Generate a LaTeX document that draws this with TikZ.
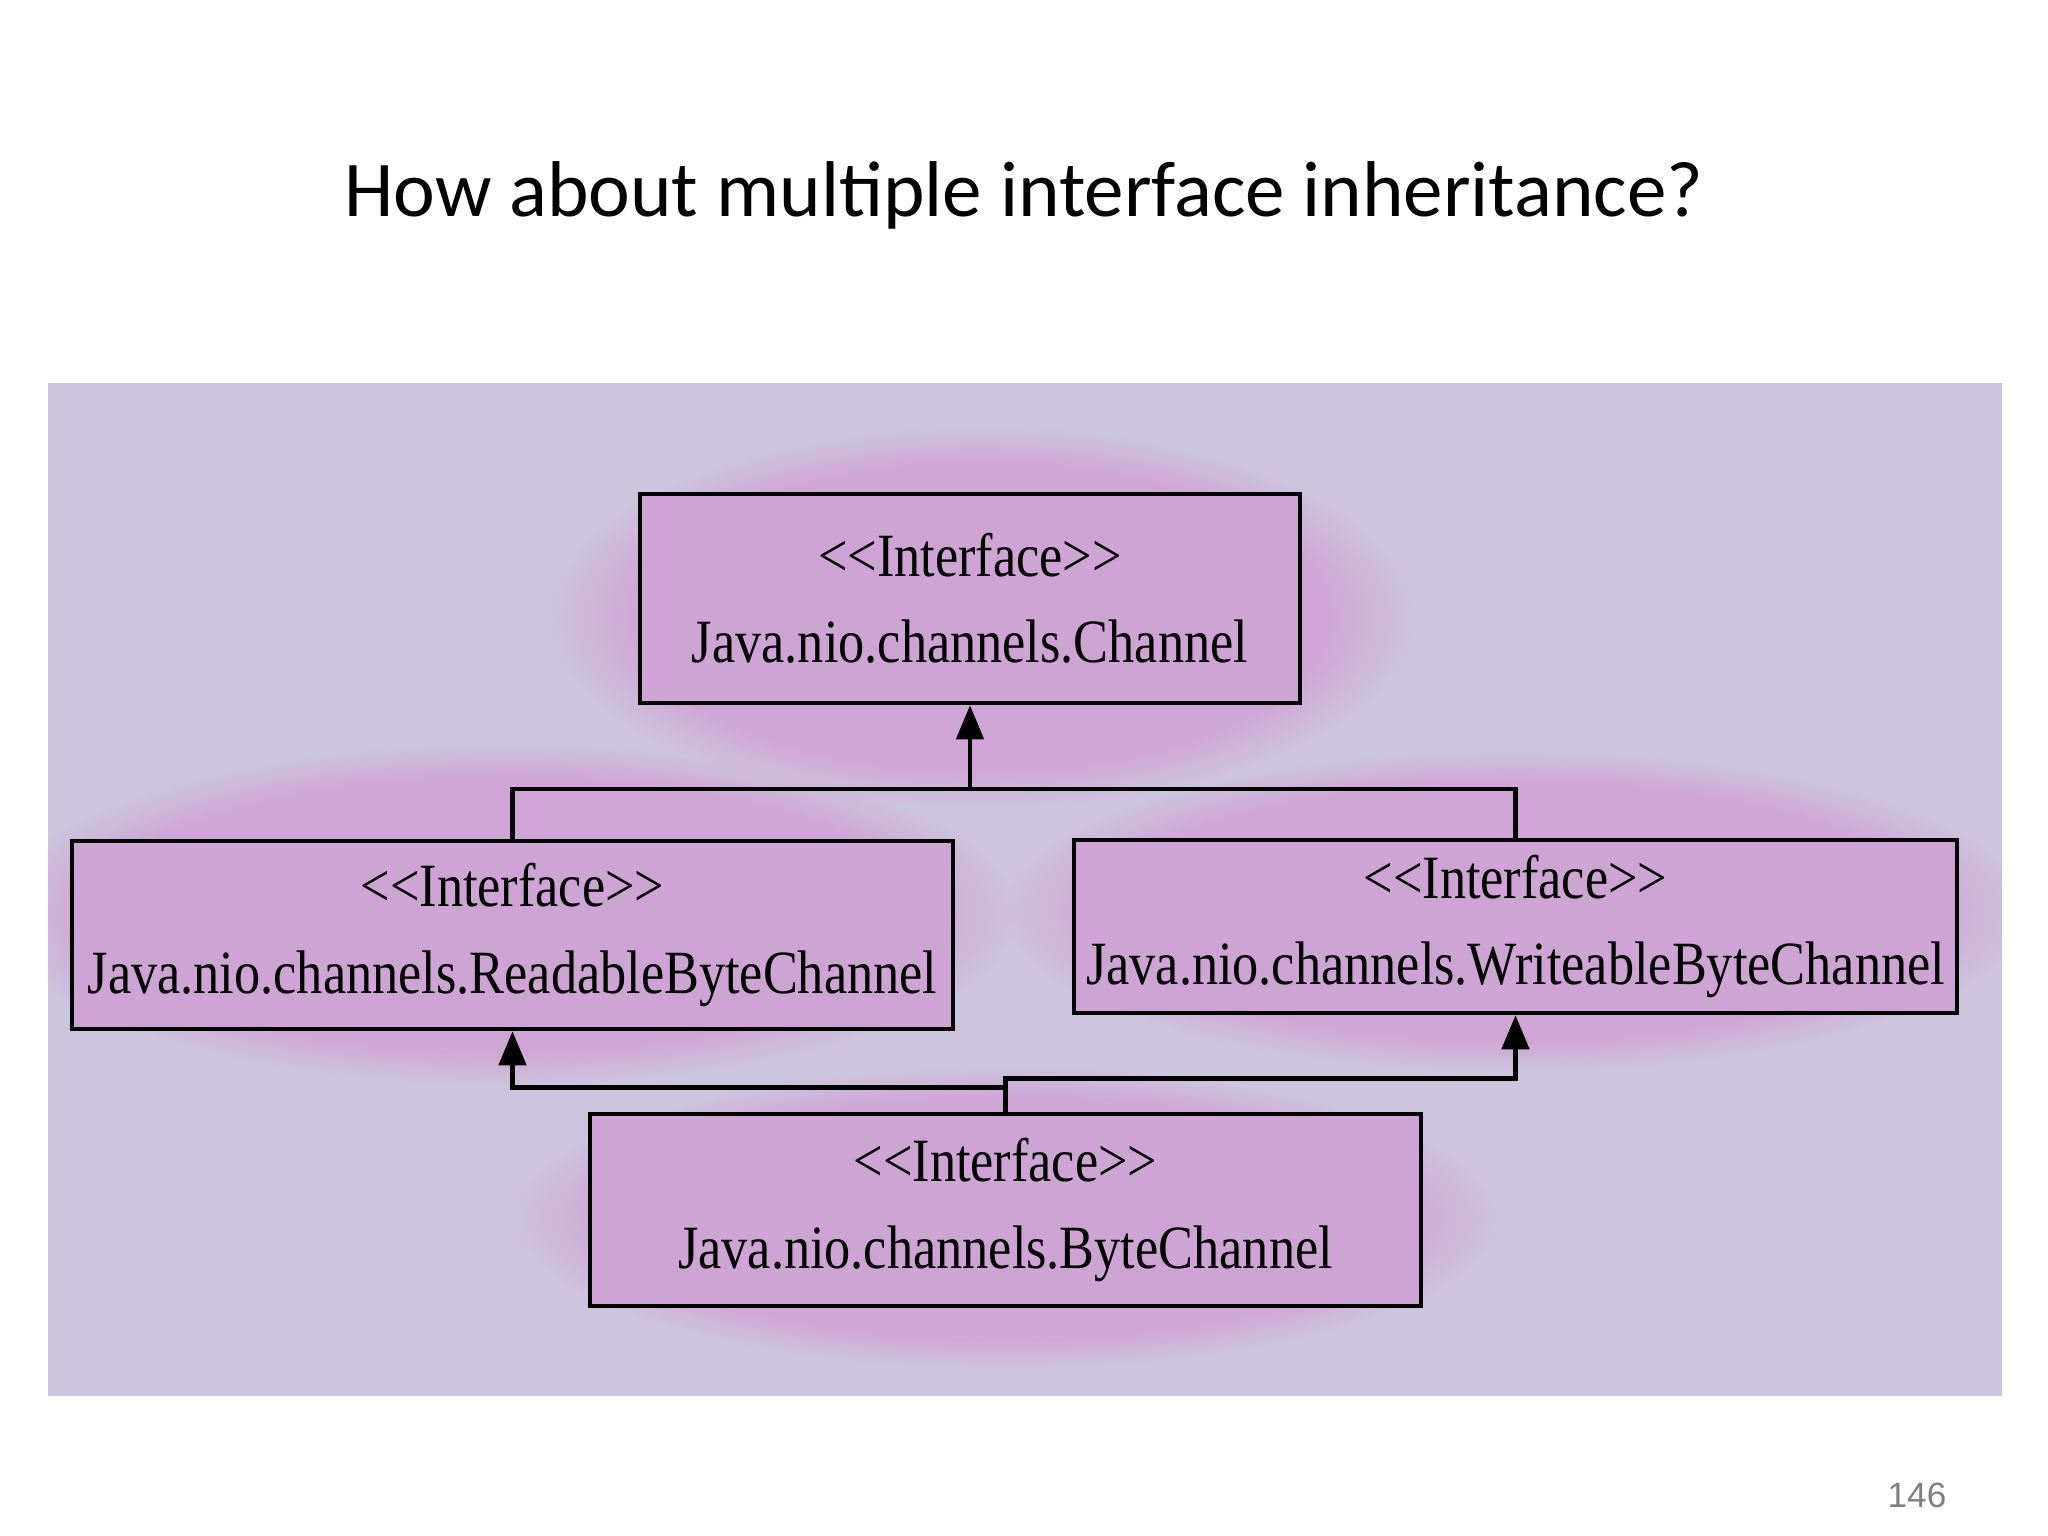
\documentclass[tikz,border=0pt]{standalone}
\usepackage{fontspec}
\setmainfont{Liberation Serif}
\newfontfamily\titlefont{Carlito}
\newfontfamily\numfont{Liberation Sans}
\newfontfamily\umlfont[FakeStretch=0.85]{Liberation Serif}
\usetikzlibrary{arrows.meta,fadings}
\definecolor{panelbg}{RGB}{205,196,222}
\definecolor{cloudpink}{RGB}{208,166,214}
\definecolor{boxpink}{RGB}{206,164,212}
\tikzset{
  iface/.style={draw, line width=1.3pt, fill=boxpink, align=center, inner sep=0pt,
    font=\umlfont\fontsize{17.5}{24.5}\selectfont},
  isa/.style={line width=1.3pt, -{Triangle[width=0.27cm,length=0.34cm]}},
  link/.style={line width=1.3pt},
  cloud/.style={fill=cloudpink, path fading=circle with fuzzy edge 20 percent}
}
\begin{document}
\begin{tikzpicture}
\fill[white] (0,0) rectangle (20.48,15.36);
\useasboundingbox (0,0) rectangle (20.48,15.36);
\fill[panelbg] (0.48,1.40) rectangle (20.02,11.53);
\begin{scope}
\clip (0.48,1.40) rectangle (20.02,11.53);
\fill[cloud] (9.82,9.19) ellipse (4.3 and 1.9);
\fill[cloud] (5.06,6.22) ellipse (5.1 and 1.7);
\fill[cloud] (15.15,6.25) ellipse (5.1 and 1.6);
\fill[cloud] (10.06,3.18) ellipse (4.9 and 1.5);
\end{scope}

\node[font=\titlefont\fontsize{22.5}{27}\selectfont, anchor=base] (title) at (10.24,13.19) {How about multiple interface inheritance?};
\node[font=\numfont\fontsize{10}{12}\selectfont, text=gray, anchor=base] (pagenum) at (19.17,0.28) {146};

\node[iface, minimum width=6.6cm, minimum height=2.09cm] (channel) at (9.70,9.375) {\textless\textless Interface\textgreater\textgreater\\Java.nio.channels.Channel};
\node[iface, minimum width=8.81cm, minimum height=1.88cm] (readable) at (5.125,6.01) {\textless\textless Interface\textgreater\textgreater\\Java.nio.channels.ReadableByteChannel};
\node[iface, minimum width=8.83cm, minimum height=1.73cm] (writeable) at (15.155,6.095) {\textless\textless Interface\textgreater\textgreater\\Java.nio.channels.WriteableByteChannel};
\node[iface, minimum width=8.31cm, minimum height=1.92cm] (byte) at (10.055,3.26) {\textless\textless Interface\textgreater\textgreater\\Java.nio.channels.ByteChannel};

\coordinate (fork) at (9.70,7.47);
\draw[link] (readable.north) |- (fork) -| (writeable.north);
\draw[isa] (fork) -- (channel.south);
\draw[isa] (byte.north) -- ++(0,0.24) -| (readable.south);
\draw[isa] (byte.north) -- ++(0,0.33) -| (writeable.south);
\end{tikzpicture}
\end{document}
